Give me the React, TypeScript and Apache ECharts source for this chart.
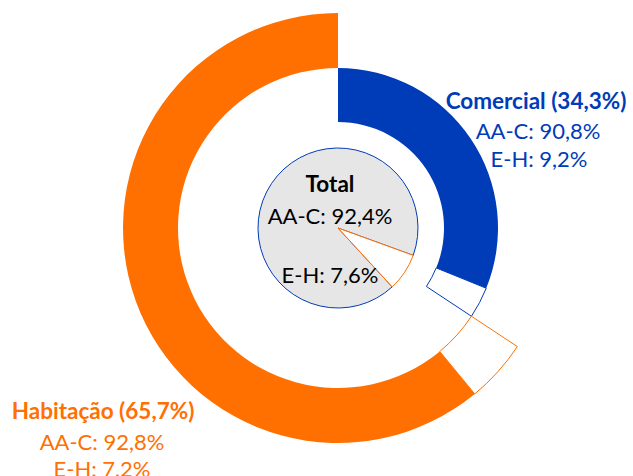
import React, { useEffect, useRef } from "react";
import * as echarts from "echarts";

// Data
const segments = ["Comercial", "Habitação"];
const segmentShare = [34.3, 65.7];
const comercialSplit = [90.8, 9.2]; // AA-C, E-H
const habitacaoSplit = [92.8, 7.2]; // AA-C, E-H
const totalSplit = [92.4, 7.6]; // AA-C, E-H
const classLabels = ["AA-C", "E-H"];

const BLUE = "#003BB8";
const ORANGE = "#FF7000";
const GREY = "#E6E6E6";

const fmt = (v: number) => v.toFixed(1).replace(".", ",") + "%";

export default function App() {
  const ref = useRef<HTMLDivElement>(null);
  useEffect(() => {
    if (!ref.current) return;
    const chart = echarts.init(ref.current, undefined, { renderer: "svg" });
    const c = [338, 228];
    const comTotal = segmentShare[0];
    const habTotal = segmentShare[1];
    const comA = (comTotal * comercialSplit[0]) / 100;
    const comE = (comTotal * comercialSplit[1]) / 100;
    const habA = (habTotal * habitacaoSplit[0]) / 100;
    const habE = (habTotal * habitacaoSplit[1]) / 100;
    const font = "Lato, 'Open Sans', sans-serif";
    const txt = (x: number, y: number, text: string, color: string, bold = false) => ({
      type: "text",
      x,
      y,
      z: 100,
      style: {
        text,
        fill: color,
        font: `${bold ? "bold 22.5px" : "22px"} ${font}`,
        textAlign: "center",
        textVerticalAlign: "middle",
      },
    });
    const none = { color: "transparent", borderWidth: 0 };
    chart.setOption({
      animation: false,
      series: [
        {
          type: "pie",
          center: c,
          radius: [106, 160],
          startAngle: 90,
          label: { show: false },
          labelLine: { show: false },
          silent: true,
          data: [
            { name: "Comercial AA-C", value: comA, itemStyle: { color: BLUE } },
            { name: "Comercial E-H", value: comE, itemStyle: { color: "#fff", borderColor: BLUE, borderWidth: 1 } },
            { name: "rest", value: habTotal, itemStyle: none },
          ],
        },
        {
          type: "pie",
          center: c,
          radius: [160, 215],
          startAngle: 90,
          label: { show: false },
          labelLine: { show: false },
          silent: true,
          data: [
            { name: "rest", value: comTotal, itemStyle: none },
            { name: "Habitação E-H", value: habE, itemStyle: { color: "#fff", borderColor: ORANGE, borderWidth: 1 } },
            { name: "Habitação AA-C", value: habA, itemStyle: { color: ORANGE } },
          ],
        },
        {
          type: "pie",
          center: c,
          radius: [0, 80],
          startAngle: 90 - 110 - (360 * totalSplit[1]) / 100,
          label: { show: false },
          labelLine: { show: false },
          silent: true,
          data: [
            { name: "Total AA-C", value: totalSplit[0], itemStyle: { color: GREY, borderColor: BLUE, borderWidth: 1 } },
            { name: "Total E-H", value: totalSplit[1], itemStyle: { color: "#fff", borderColor: ORANGE, borderWidth: 1 } },
          ],
        },
      ],
      graphic: [
        txt(536, 100, `${segments[0]} (${fmt(segmentShare[0])})`, BLUE, true),
        txt(538, 130, `${classLabels[0]}: ${fmt(comercialSplit[0])}`, BLUE),
        txt(539, 158, `${classLabels[1]}: ${fmt(comercialSplit[1])}`, BLUE),
        txt(103, 410, `${segments[1]} (${fmt(segmentShare[1])})`, ORANGE, true),
        txt(102, 441, `${classLabels[0]}: ${fmt(habitacaoSplit[0])}`, ORANGE),
        txt(102, 468, `${classLabels[1]}: ${fmt(habitacaoSplit[1])}`, ORANGE),
        txt(330, 183, "Total", "#000", true),
        txt(330, 215, `${classLabels[0]}: ${fmt(totalSplit[0])}`, "#000"),
        txt(330, 274, `${classLabels[1]}: ${fmt(totalSplit[1])}`, "#000"),
      ],
    });
    return () => chart.dispose();
  }, []);
  return (
    <div
      ref={ref}
      style={{ position: "absolute", left: 0, top: 0, width: 633, height: 476, background: "#fff" }}
    />
  );
}
